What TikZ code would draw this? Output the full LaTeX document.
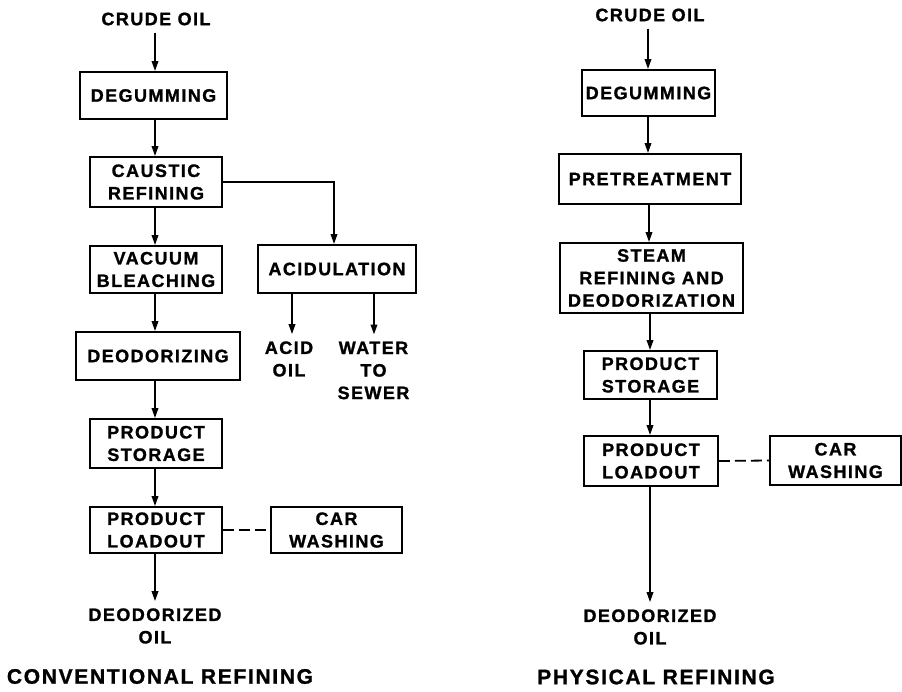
\documentclass[tikz,border=0pt]{standalone}
\usepackage{fontspec}
\newfontfamily\diagfont[LetterSpace=8,FakeBold=1.2]{Liberation Sans}
\usetikzlibrary{arrows.meta}
\newcommand\boxfont{\diagfont\bfseries\fontsize{18}{22.5}\selectfont}
\newcommand\titlefont{\diagfont\bfseries\fontsize{21}{25}\selectfont}
\begin{document}
\begin{tikzpicture}[x=1pt,y=-1pt,
  box/.style={draw, line width=1.8pt, align=center, inner sep=0pt, font=\boxfont},
  lbl/.style={align=center, inner xsep=0pt, inner ysep=7pt, font=\boxfont},
  heading/.style={inner sep=0pt, font=\titlefont},
  arr/.style={line width=1.8pt, -{Triangle[length=10pt,width=6.5pt]}},
  link/.style={line width=1.8pt, dash pattern=on 11pt off 5pt}]
\useasboundingbox (0,0) rectangle (902,692);

% ---- conventional refining ----
\node[lbl] (crude1) at (156,19) {CRUDE OIL};
\node[box, minimum width=147pt, minimum height=47pt] (deg1) at (153.5,95.5) {DEGUMMING};
\node[box, minimum width=132pt, minimum height=50pt] (caus) at (156,182) {CAUSTIC\\REFINING};
\node[box, minimum width=132pt, minimum height=47pt] (vac) at (156,269.5) {VACUUM\\BLEACHING};
\node[box, minimum width=164pt, minimum height=48pt] (deo) at (158,356) {DEODORIZING};
\node[box, minimum width=132pt, minimum height=49pt] (stor1) at (156,443.5) {PRODUCT\\STORAGE};
\node[box, minimum width=132pt, minimum height=46pt] (load1) at (156,530) {PRODUCT\\LOADOUT};
\node[box, minimum width=131pt, minimum height=46pt] (car1) at (336.5,530) {CAR\\WASHING};
\node[box, minimum width=158pt, minimum height=48pt] (acid) at (337,269) {ACIDULATION};
\node[lbl] (acidoil) at (289,359) {ACID\\OIL};
\node[lbl] (water) at (373.5,370.5) {WATER\\TO\\SEWER};
\node[lbl] (prod1) at (155,626) {DEODORIZED\\OIL};
\node[heading] (title1) at (160,676.5) {CONVENTIONAL REFINING};

\draw[arr] (crude1.south -| 155,0) -- (deg1.north -| 155,0);
\draw[arr] (deg1.south -| 155,0) -- (caus.north -| 155,0);
\draw[arr] (caus.south -| 155,0) -- (vac.north -| 155,0);
\draw[arr] (vac.south -| 155,0) -- (deo.north -| 155,0);
\draw[arr] (deo.south -| 155,0) -- (stor1.north -| 155,0);
\draw[arr] (stor1.south -| 155,0) -- (load1.north -| 155,0);
\draw[arr] (load1.south -| 155,0) -- (prod1.north -| 155,0);
\draw[arr] (caus.east) -| ([xshift=-3pt]acid.north);
\draw[arr] (acid.south -| 292,0) -- (acidoil.north -| 292,0);
\draw[arr] (acid.south -| 374,0) -- (water.north -| 374,0);
\draw[link] (load1.east) -- (car1.west);

% ---- physical refining ----
\node[lbl] (crude2) at (650,15) {CRUDE OIL};
\node[box, minimum width=133pt, minimum height=46pt] (deg2) at (648.5,93) {DEGUMMING};
\node[box, minimum width=182pt, minimum height=50pt] (pre) at (650,179) {PRETREATMENT};
\node[box, minimum width=183pt, minimum height=70pt] (steam) at (651.5,278) {STEAM\\REFINING AND\\DEODORIZATION};
\node[box, minimum width=133pt, minimum height=48pt] (stor2) at (650.5,375) {PRODUCT\\STORAGE};
\node[box, minimum width=134pt, minimum height=50pt] (load2) at (651,461) {PRODUCT\\LOADOUT};
\node[box, minimum width=131pt, minimum height=49pt] (car2) at (835.5,460.5) {CAR\\WASHING};
\node[lbl] (prod2) at (650,627) {DEODORIZED\\OIL};
\node[heading] (title2) at (656,677) {PHYSICAL REFINING};

\draw[arr] (crude2.south -| 648,0) -- (deg2.north -| 648,0);
\draw[arr] (deg2.south -| 648,0) -- (pre.north -| 648,0);
\draw[arr] (pre.south -| 649,0) -- (steam.north -| 649,0);
\draw[arr] (steam.south -| 650,0) -- (stor2.north -| 650,0);
\draw[arr] (stor2.south -| 650,0) -- (load2.north -| 650,0);
\draw[arr] (load2.south -| 650,0) -- (prod2.north -| 650,0);
\draw[link] (load2.east) -- (car2.west);
\end{tikzpicture}
\end{document}
